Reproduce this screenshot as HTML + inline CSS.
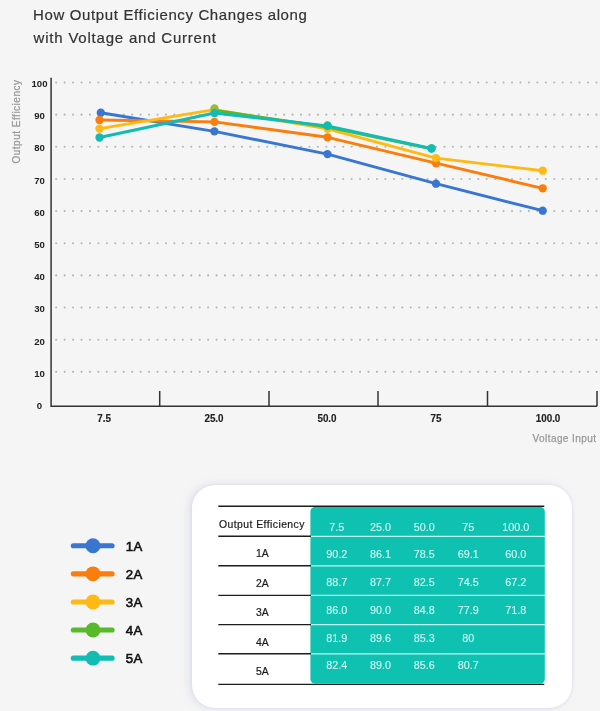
<!DOCTYPE html>
<html><head><meta charset="utf-8"><title>Output Efficiency</title>
<style>
html,body{margin:0;padding:0;}
body{width:600px;height:711px;overflow:hidden;background:#f5f5f5;font-family:"Liberation Sans",sans-serif;position:relative;}
h1{position:absolute;left:33.1px;top:4px;margin:0;font-size:15px;line-height:22.5px;font-weight:400;color:#333;letter-spacing:0.63px;white-space:nowrap;-webkit-text-stroke:.2px #333;}
h1 span{letter-spacing:.79px;margin-left:.5px;}
.card{position:absolute;left:192px;top:484.8px;width:380px;height:223.6px;background:#fff;border-radius:23px;box-shadow:-3px 0 9px rgba(195,200,228,.4),0 0 3px rgba(200,200,225,.6);}
svg{position:absolute;left:0;top:0;}
svg text{font-family:"Liberation Sans",sans-serif;}
.yl text,.xl text{font-size:9.6px;font-weight:700;fill:#222;text-anchor:middle;}
.xl text{font-size:10.2px;stroke:#222;stroke-width:.15px;}
.g{fill:#999;font-size:10px;stroke:#999;stroke-width:.25px;}
.lg{font-size:13.2px;fill:#111;stroke:#111;stroke-width:.6px;letter-spacing:.45px;}
.rl text{font-size:10.4px;fill:#1a1a1a;stroke:#1a1a1a;stroke-width:.2px;text-anchor:middle;}
.nums text{font-size:10.8px;fill:#d4f9f4;stroke:#d4f9f4;stroke-width:.1px;text-anchor:middle;}
</style></head><body>
<h1>How Output Efficiency Changes along<br><span>with Voltage and Current</span></h1>
<div class="card"></div>
<svg width="600" height="711" viewBox="0 0 600 711">
<g stroke="#b6b6b6" stroke-width="2.1" stroke-linecap="round" stroke-dasharray="0.01 8.431" fill="none"><line x1="56.2" y1="82.50" x2="598" y2="82.50"/><line x1="56.2" y1="114.65" x2="598" y2="114.65"/><line x1="56.2" y1="146.80" x2="598" y2="146.80"/><line x1="56.2" y1="178.95" x2="598" y2="178.95"/><line x1="56.2" y1="211.10" x2="598" y2="211.10"/><line x1="56.2" y1="243.25" x2="598" y2="243.25"/><line x1="56.2" y1="275.40" x2="598" y2="275.40"/><line x1="56.2" y1="307.55" x2="598" y2="307.55"/><line x1="56.2" y1="339.70" x2="598" y2="339.70"/><line x1="56.2" y1="371.85" x2="598" y2="371.85"/></g>
<g class="yl"><text x="39.5" y="86.85">100</text><text x="39.5" y="119.08">90</text><text x="39.5" y="151.31">80</text><text x="39.5" y="183.54">70</text><text x="39.5" y="215.77">60</text><text x="39.5" y="248.00">50</text><text x="39.5" y="280.23">40</text><text x="39.5" y="312.46">30</text><text x="39.5" y="344.69">20</text><text x="39.5" y="376.92">10</text><text x="39.5" y="409.15">0</text></g>
<text class="g" transform="translate(19.5,163.5) rotate(-90)" textLength="83.5">Output Efficiency</text>
<g><polyline points="100.8,112.7 214.4,131.4 327.5,154.1 436,183.7 542.7,210.7" fill="none" stroke="#3876d2" stroke-width="2.9" stroke-linejoin="round" stroke-linecap="round"/><circle cx="100.8" cy="112.7" r="4.15" fill="#3876d2"/><circle cx="214.4" cy="131.4" r="4.15" fill="#3876d2"/><circle cx="327.5" cy="154.1" r="4.15" fill="#3876d2"/><circle cx="436" cy="183.7" r="4.15" fill="#3876d2"/><circle cx="542.7" cy="210.7" r="4.15" fill="#3876d2"/><polyline points="99.5,120 214.4,121.9 327.5,137.3 436,163.2 542.7,188.3" fill="none" stroke="#fa7d0d" stroke-width="2.9" stroke-linejoin="round" stroke-linecap="round"/><circle cx="99.5" cy="120" r="4.15" fill="#fa7d0d"/><circle cx="214.4" cy="121.9" r="4.15" fill="#fa7d0d"/><circle cx="327.5" cy="137.3" r="4.15" fill="#fa7d0d"/><circle cx="436" cy="163.2" r="4.15" fill="#fa7d0d"/><circle cx="542.7" cy="188.3" r="4.15" fill="#fa7d0d"/><polyline points="99.5,128.6 214.5,109.6 327.5,128.8 436,158.1 542.7,170.7" fill="none" stroke="#feba12" stroke-width="2.9" stroke-linejoin="round" stroke-linecap="round"/><circle cx="99.5" cy="128.6" r="4.15" fill="#feba12"/><circle cx="214.5" cy="109.6" r="4.15" fill="#feba12"/><circle cx="327.5" cy="128.8" r="4.15" fill="#feba12"/><circle cx="436" cy="158.1" r="4.15" fill="#feba12"/><circle cx="542.7" cy="170.7" r="4.15" fill="#feba12"/><polyline points="214.5,110.3 327.5,127.0 431.5,148.9" fill="none" stroke="#59b92c" stroke-width="2.9" stroke-linejoin="round" stroke-linecap="round"/><circle cx="214.5" cy="108.5" r="4.15" fill="#9bbb36"/><circle cx="327.5" cy="125.5" r="4.15" fill="#59b92c"/><circle cx="431.5" cy="148.3" r="4.15" fill="#59b92c"/><polyline points="99.5,137.5 214.5,113 327.5,125.9 431.5,148.5" fill="none" stroke="#12bcb5" stroke-width="2.9" stroke-linejoin="round" stroke-linecap="round"/><circle cx="99.5" cy="137.5" r="4.15" fill="#12bcb5"/><circle cx="214.5" cy="113" r="4.15" fill="#12bcb5"/><circle cx="327.5" cy="125.9" r="4.15" fill="#12bcb5"/><circle cx="431.5" cy="148.5" r="4.15" fill="#12bcb5"/></g>
<g stroke="#333" stroke-width="1.5" fill="none"><path d="M51.1 77.7 V406.25 H597"/><line x1="159.7" y1="391" x2="159.7" y2="406.25"/><line x1="269" y1="391" x2="269" y2="406.25"/><line x1="378" y1="391" x2="378" y2="406.25"/><line x1="487.5" y1="391" x2="487.5" y2="406.25"/><line x1="597" y1="391" x2="597" y2="406.25"/></g>
<g class="xl"><text transform="translate(104,422.3) scale(.97,1)">7.5</text><text transform="translate(214,422.3) scale(.97,1)">25.0</text><text transform="translate(327,422.3) scale(.97,1)">50.0</text><text transform="translate(436,422.3) scale(.97,1)">75</text><text transform="translate(548,422.3) scale(.97,1)">100.0</text></g>
<text class="g" x="532.5" y="442.4" textLength="63.5">Voltage Input</text>
<line x1="73.3" y1="545.75" x2="112.1" y2="545.75" stroke="#3876d2" stroke-width="5.1" stroke-linecap="round"/><circle cx="93" cy="545.75" r="7.45" fill="#3876d2"/><text x="125.7" y="550.95" class="lg">1A</text><line x1="73.3" y1="573.85" x2="112.1" y2="573.85" stroke="#fa7d0d" stroke-width="5.1" stroke-linecap="round"/><circle cx="93" cy="573.85" r="7.45" fill="#fa7d0d"/><text x="125.7" y="579.05" class="lg">2A</text><line x1="73.3" y1="601.95" x2="112.1" y2="601.95" stroke="#feba12" stroke-width="5.1" stroke-linecap="round"/><circle cx="93" cy="601.95" r="7.45" fill="#feba12"/><text x="125.7" y="607.15" class="lg">3A</text><line x1="73.3" y1="630.05" x2="112.1" y2="630.05" stroke="#59b92c" stroke-width="5.1" stroke-linecap="round"/><circle cx="93" cy="630.05" r="7.45" fill="#59b92c"/><text x="125.7" y="635.25" class="lg">4A</text><line x1="73.3" y1="658.15" x2="112.1" y2="658.15" stroke="#12bcb5" stroke-width="5.1" stroke-linecap="round"/><circle cx="93" cy="658.15" r="7.45" fill="#12bcb5"/><text x="125.7" y="663.35" class="lg">5A</text>
<rect x="310.4" y="507" width="234.4" height="176.5" rx="4.5" fill="#0ec1b1"/>
<g stroke="#1c1c1c" stroke-width="1.4"><line x1="218.3" y1="506.2" x2="544.3" y2="506.2"/><line x1="218.3" y1="536.3" x2="311" y2="536.3"/><line x1="218.3" y1="565.8" x2="311" y2="565.8"/><line x1="218.3" y1="595.35" x2="311" y2="595.35"/><line x1="218.3" y1="624.6" x2="311" y2="624.6"/><line x1="218.3" y1="653.8" x2="311" y2="653.8"/><line x1="218.3" y1="684.4" x2="544.3" y2="684.4"/></g>
<g stroke="#bdf8f1" stroke-width="1.3"><line x1="311" y1="536.3" x2="545" y2="536.3"/><line x1="311" y1="565.8" x2="545" y2="565.8"/><line x1="311" y1="595.35" x2="545" y2="595.35"/><line x1="311" y1="624.6" x2="545" y2="624.6"/><line x1="311" y1="653.8" x2="545" y2="653.8"/></g>
<text x="219" y="528" font-size="10.4" fill="#1a1a1a" stroke="#1a1a1a" stroke-width=".2" textLength="85.4">Output Efficiency</text>
<g class="rl"><text x="262.4" y="557.20">1A</text><text x="262.4" y="586.70">2A</text><text x="262.4" y="616.30">3A</text><text x="262.4" y="645.80">4A</text><text x="262.4" y="675.00">5A</text></g>
<g class="nums"><text x="336.7" y="530.80">7.5</text><text x="380.4" y="530.80">25.0</text><text x="424.3" y="530.80">50.0</text><text x="468.3" y="530.80">75</text><text x="515.7" y="530.80">100.0</text><text x="336.7" y="558.40">90.2</text><text x="380.4" y="558.40">86.1</text><text x="424.3" y="558.40">78.5</text><text x="468.3" y="558.40">69.1</text><text x="515.7" y="558.40">60.0</text><text x="336.7" y="586.10">88.7</text><text x="380.4" y="586.10">87.7</text><text x="424.3" y="586.10">82.5</text><text x="468.3" y="586.10">74.5</text><text x="515.7" y="586.10">67.2</text><text x="336.7" y="613.90">86.0</text><text x="380.4" y="613.90">90.0</text><text x="424.3" y="613.90">84.8</text><text x="468.3" y="613.90">77.9</text><text x="515.7" y="613.90">71.8</text><text x="336.7" y="641.60">81.9</text><text x="380.4" y="641.60">89.6</text><text x="424.3" y="641.60">85.3</text><text x="468.3" y="641.60">80</text><text x="336.7" y="669.40">82.4</text><text x="380.4" y="669.40">89.0</text><text x="424.3" y="669.40">85.6</text><text x="468.3" y="669.40">80.7</text></g>
</svg>
</body></html>
